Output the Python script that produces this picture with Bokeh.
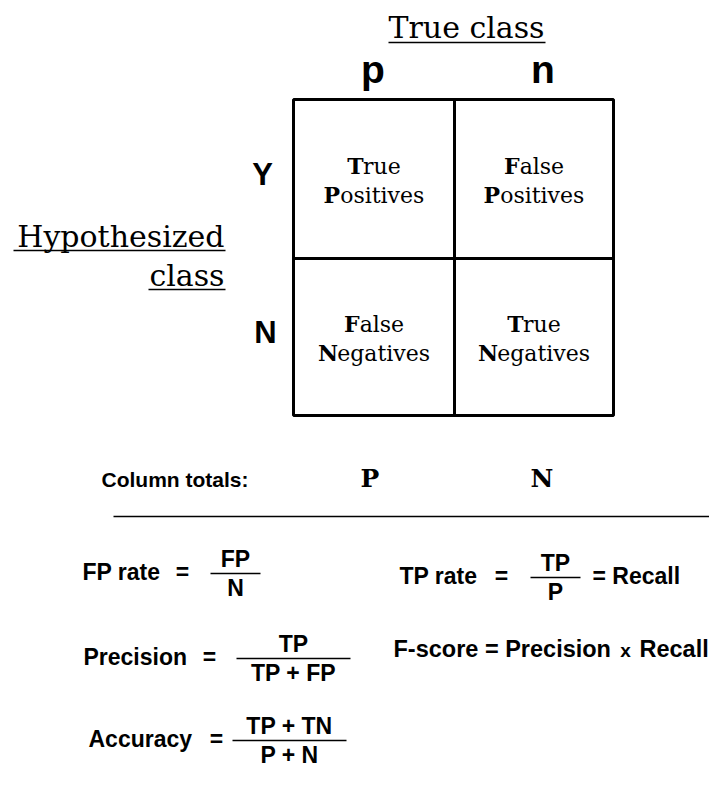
from bokeh.plotting import figure
from bokeh.models import Range1d
from bokeh.embed import file_html
from bokeh.resources import INLINE
from bokeh.core.properties import value

# ---------------- content (data) ----------------
true_class_title = "True class"
hyp_class_title = ["Hypothesized", "class"]
col_labels = ["p", "n"]
row_labels = ["Y", "N"]
cell_words = [
    [("True", "Positives"), ("False", "Positives")],
    [("False", "Negatives"), ("True", "Negatives")],
]
totals_caption = "Column totals:"
totals_labels = ["P", "N"]
formula_names = ["FP rate", "TP rate", "Precision", "Accuracy"]
formula_nums = ["FP", "TP", "TP", "TP + TN"]
formula_dens = ["N", "P", "TP + FP", "P + N"]
recall_suffix = "= Recall"
fscore_parts = ["F-score = Precision", "x", "Recall"]

# ---------------- layout / style ----------------
SERIF = "DejaVu Serif"
SANS = "Liberation Sans"
W, H = 709, 780
X_EDGES = [293, 454, 613]
Y_EDGES = [99, 258, 415]
BASE_K = 0.36   # baseline correction (fraction of font size)

# approximate advance widths (em) for DejaVu Serif, used to centre mixed bold/regular words
ADV_REG = {"a": .596, "e": .592, "g": .640, "i": .320, "l": .320, "n": .644, "o": .602,
           "r": .478, "s": .514, "t": .402, "u": .644, "v": .565}
ADV_BOLD = {"T": .719, "F": .716, "P": .753, "N": .872}
CELL_SIZE = 22

p = figure(width=W, height=H, x_range=Range1d(0, W), y_range=Range1d(H, 0),
           output_backend="svg", toolbar_location=None, min_border=0,
           background_fill_color="white", border_fill_color="white")
p.axis.visible = False
p.xgrid.visible = False
p.ygrid.visible = False
p.outline_line_color = None


def txt(x, y, s, font, size, bold=False, align="left"):
    p.text(x=[x], y=[y - BASE_K * size], text=[s], text_font=value(font),
           text_font_size=f"{size}px", text_font_style="bold" if bold else "normal",
           text_align=align, text_baseline="alphabetic", text_color="black")


def hline(x0, x1, y, w=1.5):
    p.segment(x0=[x0], y0=[y], x1=[x1], y1=[y], line_color="black", line_width=w)


# ---- confusion-matrix grid ----
p.quad(left=[X_EDGES[0]], right=[X_EDGES[2]], top=[Y_EDGES[0]], bottom=[Y_EDGES[2]],
       fill_color=None, line_color="black", line_width=3)
p.segment(x0=[X_EDGES[1]], y0=[Y_EDGES[0]], x1=[X_EDGES[1]], y1=[Y_EDGES[2]],
          line_color="black", line_width=3)
p.segment(x0=[X_EDGES[0]], y0=[Y_EDGES[1]], x1=[X_EDGES[2]], y1=[Y_EDGES[1]],
          line_color="black", line_width=3)

cx = [(X_EDGES[i] + X_EDGES[i + 1]) / 2 for i in range(2)]
cy = [(Y_EDGES[i] + Y_EDGES[i + 1]) / 2 for i in range(2)]

for r in range(2):
    for c in range(2):
        for k, word in enumerate(cell_words[r][c]):
            fw = ADV_BOLD[word[0]] * CELL_SIZE
            rw = sum(ADV_REG.get(ch, .55) for ch in word[1:]) * CELL_SIZE
            x0 = cx[c] - (fw + rw) / 2
            yb = cy[r] - 5 + k * 29
            txt(x0, yb, word[0], SERIF, CELL_SIZE, bold=True)
            txt(x0 + fw, yb, word[1:], SERIF, CELL_SIZE)

# ---- headers ----
txt(466, 38, true_class_title, SERIF, 30, align="center")
hline(388, 545, 42, 1.5)
col_off = [-1, 9]
for c in range(2):
    txt(cx[c] + col_off[c], 83, col_labels[c], SANS, 39, bold=True, align="center")
row_off = [-1, 2]
for r in range(2):
    txt(263 + row_off[r], cy[r] + 7, row_labels[r], SANS, 31, bold=True, align="center")

txt(224, 247, hyp_class_title[0], SERIF, 30, align="right")
hline(13, 225, 250, 1.5)
txt(224, 286, hyp_class_title[1], SERIF, 30, align="right")
hline(148, 225, 289, 1.5)

# ---- column totals ----
txt(101, 487, totals_caption, SANS, 21, bold=True)
tot_off = [-4, 8]
for c in range(2):
    txt(cx[c] + tot_off[c], 487, totals_labels[c], SERIF, 25, bold=True, align="center")
hline(113, W, 516, 1.5)

# ---- formulas ----
F = 23
# name left, name baseline, "=" centre, fraction centre, fraction half width
f_layout = [
    (82, 580, 182, 235, 25),
    (399, 584, 501, 555, 25),
    (83, 665, 209, 293, 57),
    (88, 747, 216, 289, 57),
]
for i, name in enumerate(formula_names):
    lx, base, eqx, fx, hw = f_layout[i]
    txt(lx, base, name, SANS, F, bold=True)
    txt(eqx, base, "=", SANS, F, bold=True, align="center")
    ly = base - 7
    hline(fx - hw, fx + hw, ly, 1.5)
    txt(fx, ly - 6, formula_nums[i], SANS, F, bold=True, align="center")
    txt(fx, ly + 23, formula_dens[i], SANS, F, bold=True, align="center")

txt(592, 584, recall_suffix, SANS, F, bold=True)

FS = 23.5
txt(393, 657, fscore_parts[0], SANS, FS, bold=True)
txt(625, 657, fscore_parts[1], SANS, 19, bold=True, align="center")
txt(639, 657, fscore_parts[2], SANS, FS, bold=True)

open("out.html", "w").write(file_html(p, INLINE))
